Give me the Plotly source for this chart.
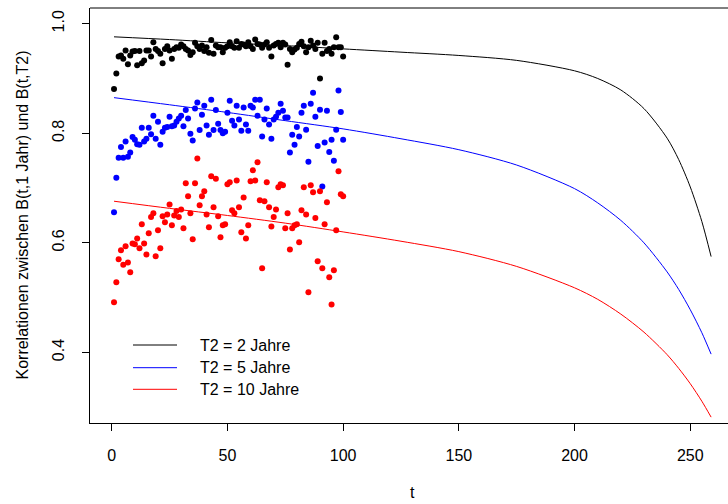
import plotly.graph_objects as go

# ---------------- data ----------------
t_points = list(range(1, 101))

corr_T2_2 = [0.881, 0.909, 0.940, 0.942, 0.936, 0.951, 0.926, 0.942, 0.949, 0.950,
             0.924, 0.950, 0.928, 0.933, 0.951, 0.951, 0.940, 0.966, 0.954, 0.950,
             0.945, 0.928, 0.954, 0.959, 0.951, 0.936, 0.954, 0.957, 0.956, 0.962,
             0.959, 0.954, 0.951, 0.943, 0.948, 0.965, 0.959, 0.954, 0.960, 0.950,
             0.957, 0.947, 0.970, 0.945, 0.960, 0.957, 0.957, 0.948, 0.956, 0.959,
             0.966, 0.959, 0.956, 0.968, 0.956, 0.963, 0.962, 0.959, 0.966, 0.959,
             0.954, 0.971, 0.963, 0.962, 0.956, 0.962, 0.966, 0.956, 0.940, 0.960,
             0.963, 0.965, 0.957, 0.965, 0.962, 0.925, 0.954, 0.948, 0.953, 0.956,
             0.963, 0.967, 0.959, 0.948, 0.957, 0.969, 0.960, 0.954, 0.965, 0.900,
             0.945, 0.965, 0.950, 0.954, 0.945, 0.957, 0.975, 0.957, 0.957, 0.940]

corr_T2_5 = [0.656, 0.719, 0.7555, 0.775, 0.7555, 0.785, 0.757, 0.765, 0.793, 0.788,
             0.780, 0.779, 0.810, 0.785, 0.790, 0.810, 0.798, 0.832, 0.790, 0.821,
             0.779, 0.803, 0.810, 0.8115, 0.830, 0.813, 0.814, 0.821, 0.827, 0.832,
             0.813, 0.8425, 0.827, 0.799, 0.787, 0.845, 0.856, 0.806, 0.834, 0.850,
             0.814, 0.7975, 0.861, 0.806, 0.8425, 0.8175, 0.806, 0.800, 0.803, 0.8375,
             0.8595, 0.823, 0.814, 0.850, 0.825, 0.8045, 0.847, 0.816, 0.8045, 0.850,
             0.847, 0.861, 0.832, 0.861, 0.794, 0.825, 0.845, 0.816, 0.790, 0.825,
             0.830, 0.8375, 0.854, 0.841, 0.829, 0.829, 0.765, 0.7975, 0.779, 0.8115,
             0.794, 0.8375, 0.850, 0.8065, 0.748, 0.854, 0.874, 0.830, 0.777, 0.843,
             0.703, 0.783, 0.841, 0.766, 0.788, 0.750, 0.8065, 0.878, 0.839, 0.788]

corr_T2_10 = [0.4916, 0.528, 0.570, 0.5865, 0.560, 0.594, 0.564, 0.5465, 0.599, 0.5975,
              0.608, 0.590, 0.634, 0.599, 0.579, 0.6175, 0.647, 0.654, 0.5755, 0.623,
              0.590, 0.6485, 0.6375, 0.652, 0.670, 0.632, 0.650, 0.658, 0.647, 0.661,
              0.6265, 0.709, 0.685, 0.654, 0.6066, 0.709, 0.754, 0.6686, 0.685, 0.694,
              0.652, 0.6285, 0.7215, 0.665, 0.717, 0.6485, 0.6102, 0.632, 0.634, 0.707,
              0.7105, 0.6595, 0.654, 0.714, 0.665, 0.6195, 0.683, 0.608, 0.632, 0.7125,
              0.7325, 0.714, 0.747, 0.678, 0.5536, 0.676, 0.7105, 0.665, 0.630, 0.647,
              0.661, 0.7015, 0.707, 0.705, 0.6265, 0.654, 0.588, 0.6265, 0.632, 0.634,
              0.601, 0.6595, 0.7015, 0.652, 0.510, 0.705, 0.6925, 0.6455, 0.5665, 0.694,
              0.5536, 0.634, 0.674, 0.5373, 0.4877, 0.550, 0.623, 0.7307, 0.6887, 0.685]

t_curve = [1, 25, 50, 75, 100, 125, 150, 175, 200, 210, 220, 230, 240, 245, 250, 255, 259]
theo_T2_2 = [0.976, 0.971, 0.965, 0.960, 0.954, 0.948, 0.942, 0.933, 0.914, 0.900,
             0.879, 0.845, 0.791, 0.752, 0.702, 0.639, 0.575]
theo_T2_5 = [0.865, 0.852, 0.838, 0.823, 0.808, 0.790, 0.770, 0.742, 0.699, 0.673,
             0.641, 0.600, 0.547, 0.515, 0.478, 0.436, 0.397]
theo_T2_10 = [0.676, 0.663, 0.650, 0.636, 0.620, 0.603, 0.584, 0.557, 0.518, 0.497,
              0.470, 0.437, 0.396, 0.371, 0.343, 0.311, 0.282]

legend_labels = ["T2 = 2 Jahre", "T2 = 5 Jahre", "T2 = 10 Jahre"]
x_ticks = [0, 50, 100, 150, 200, 250]
y_ticks = [0.4, 0.6, 0.8, 1.0]
x_title = "t"
y_title = "Korrelationen zwischen B(t,1 Jahr) und B(t,T2)"

# ---------------- figure ----------------
colors = ["black", "blue", "red"]
points = [corr_T2_2, corr_T2_5, corr_T2_10]
curves = [theo_T2_2, theo_T2_5, theo_T2_10]

fig = go.Figure()
for pts, col in zip(points, colors):
    fig.add_trace(go.Scatter(x=t_points, y=pts, mode="markers",
                             marker=dict(color=col, size=6, line=dict(width=0)),
                             showlegend=False, hoverinfo="skip"))
for crv, col, lab in zip(curves, colors, legend_labels):
    fig.add_trace(go.Scatter(x=t_curve, y=crv, mode="lines", name=lab,
                             line=dict(color=col, width=1, shape="spline", smoothing=0.8),
                             showlegend=False))

FONT = "Liberation Sans, Arial, Helvetica, sans-serif"

L, R, T, B = 90, 0, 8, 81
PW, PH = 728 - L - R, 504 - T - B

fig.update_layout(
    width=728, height=504,
    margin=dict(l=L, r=R, t=T, b=B, pad=0),
    paper_bgcolor="white", plot_bgcolor="white",
    font=dict(family=FONT, size=16, color="black"),
    xaxis=dict(range=[-9.38, 266.3], tickvals=x_ticks, ticks="outside", ticklen=7,
               tickcolor="black", showline=True, linecolor="black", linewidth=1,
               showgrid=False, zeroline=False, ticklabelstandoff=11, automargin=False,
               tickfont=dict(size=16, family=FONT, color="black")),
    yaxis=dict(range=[0.2713, 1.0286], tickvals=y_ticks, tickformat=".1f",
               ticks="outside", ticklen=7, tickcolor="black", tickangle=-90,
               showline=True, linecolor="black", linewidth=1,
               showgrid=False, zeroline=False, ticklabelstandoff=12, automargin=False,
               tickfont=dict(size=16, family=FONT, color="black")),
)

# top border of the box (the right border lies outside the picture)
fig.add_shape(type="line", xref="paper", yref="paper", x0=0, x1=1, y0=1, y1=1,
              line=dict(color="black", width=1))

# axis titles
fig.add_annotation(text=x_title, xref="paper", yref="paper", x=(412.5 - L) / PW,
                   y=-(492 - (T + PH)) / PH, showarrow=False, xanchor="center", yanchor="middle",
                   font=dict(size=16, family=FONT, color="black"))
fig.add_annotation(text=y_title, xref="paper", yref="paper", x=-(L - 22) / PW,
                   y=0.5, showarrow=False, textangle=-90, xanchor="center", yanchor="middle",
                   font=dict(size=16, family=FONT, color="black"))

# legend (no box, as in the original)
leg_rows_px = [345, 367.7, 389.3]
for lab, col, ypx in zip(legend_labels, colors, leg_rows_px):
    yp = (T + PH - ypx) / PH
    fig.add_shape(type="line", xref="paper", yref="paper",
                  x0=(133 - L) / PW, x1=(177 - L) / PW, y0=yp, y1=yp,
                  line=dict(color=col, width=1))
    fig.add_annotation(text=lab, xref="paper", yref="paper", x=(197.5 - L) / PW, y=yp,
                       showarrow=False, xanchor="left", yanchor="middle",
                       font=dict(size=16, family=FONT, color="black"))

fig.write_html("out.html", config={"displayModeBar": False},
               post_script="document.body.style.margin='0';document.body.style.overflow='hidden';")
